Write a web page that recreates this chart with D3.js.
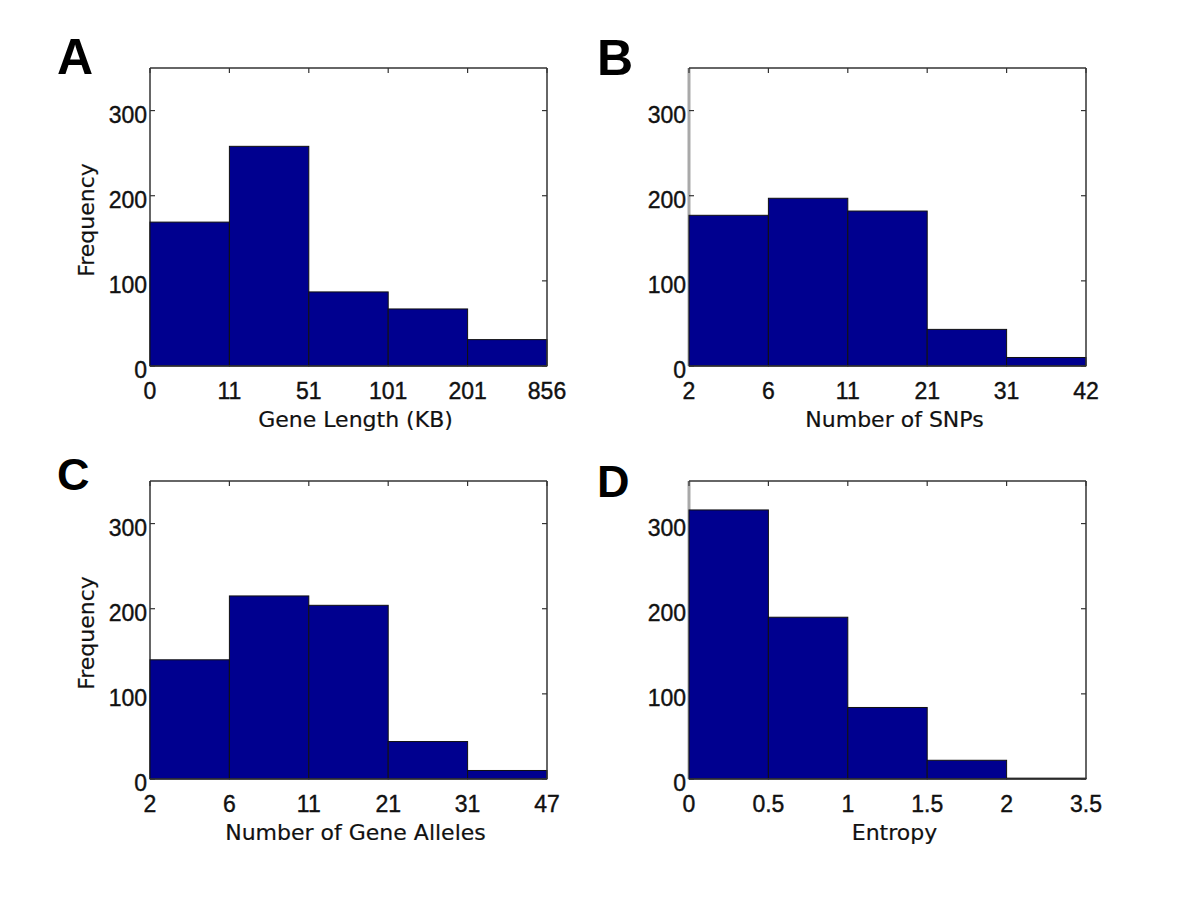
<!DOCTYPE html>
<html>
<head>
<meta charset="utf-8">
<script src="https://cdn.jsdelivr.net/npm/d3@7"></script>
<style>
  html, body { margin: 0; padding: 0; background: #fff; }
  svg { display: block; }
</style>
</head>
<body>
<svg id="chart" width="1200" height="913"></svg>
<script>
// ---- data ----
const panelLetters = ["A", "B", "C", "D"];
const xTitles = ["Gene Length (KB)", "Number of SNPs", "Number of Gene Alleles", "Entropy"];
const yTitles = ["Frequency", "", "Frequency", ""];
const edgesA = ["0", "11", "51", "101", "201", "856"];
const countsA = [169, 258, 87, 67, 31];
const edgesB = ["2", "6", "11", "21", "31", "42"];
const countsB = [177, 197, 182, 43, 10];
const edgesC = ["2", "6", "11", "21", "31", "47"];
const countsC = [140, 215, 204, 44, 10];
const edgesD = ["0", "0.5", "1", "1.5", "2", "3.5"];
const countsD = [316, 190, 84, 22, 1];
const yTicks = [0, 100, 200, 300];
const yMax = 350;

const edgesAll = [edgesA, edgesB, edgesC, edgesD];
const countsAll = [countsA, countsB, countsC, countsD];

// ---- layout ----
const svg = d3.select("#chart");
const lefts = [150, 689, 150, 689];
const tops = [68, 68, 481, 481];
const W = 397, H = 298;
const barColor = "#00008F";
const tickFont = "'Liberation Sans', Arial, sans-serif";
const titleFont = "'DejaVu Sans', sans-serif";
const letterX = [57, 597, 57, 597];
const letterDY = [6, 7, 9, 16];
const letterSize = [50, 50, 45, 45];

panelLetters.forEach((letter, i) => {
  const L = lefts[i], T = tops[i];
  const g = svg.append("g");
  const x = d3.scalePoint().domain(edgesAll[i]).range([L, L + W]);
  const y = d3.scaleLinear().domain([0, yMax]).range([T + H, T]);
  const edges = edgesAll[i];
  const counts = countsAll[i];
  const grayLeft = (i === 1 || i === 3);

  // left spine (under bars)
  g.append("line")
    .attr("x1", L).attr("x2", L).attr("y1", T).attr("y2", T + H)
    .attr("stroke", grayLeft ? "#a9a9a9" : "#333")
    .attr("stroke-width", grayLeft ? 3 : 1.5);

  // inward left ticks (under bars)
  g.selectAll(".ltick").data(yTicks).enter().append("line")
    .attr("x1", L).attr("x2", L + 5)
    .attr("y1", d => y(d)).attr("y2", d => y(d))
    .attr("stroke", "#333").attr("stroke-width", 1.2);

  // bars
  g.selectAll(".bar").data(counts).enter().append("rect")
    .attr("x", (d, k) => x(edges[k]))
    .attr("width", (d, k) => x(edges[k + 1]) - x(edges[k]))
    .attr("y", d => y(d))
    .attr("height", d => y(0) - y(d))
    .attr("fill", barColor)
    .attr("stroke", "#111")
    .attr("stroke-width", 1);

  // rest of box (on top)
  const box = [
    [L, T, L + W, T],
    [L + W, T, L + W, T + H],
    [L, T + H, L + W, T + H]
  ];
  box.forEach(b => {
    g.append("line")
      .attr("x1", b[0]).attr("y1", b[1]).attr("x2", b[2]).attr("y2", b[3])
      .attr("stroke", "#333").attr("stroke-width", 1.5);
  });

  // top inward ticks at x edges, right inward ticks at y ticks
  g.selectAll(".ttick").data(edges).enter().append("line")
    .attr("x1", d => x(d)).attr("x2", d => x(d))
    .attr("y1", T).attr("y2", T + 5)
    .attr("stroke", "#333").attr("stroke-width", 1.2);
  g.selectAll(".rtick").data(yTicks).enter().append("line")
    .attr("x1", L + W - 5).attr("x2", L + W)
    .attr("y1", d => y(d)).attr("y2", d => y(d))
    .attr("stroke", "#333").attr("stroke-width", 1.2);

  // y tick labels
  g.selectAll(".ylab").data(yTicks).enter().append("text")
    .attr("x", L - 3)
    .attr("y", d => y(d) + 12)
    .attr("text-anchor", "end")
    .attr("font-family", tickFont)
    .attr("font-size", 23)
    .attr("fill", "#111")
    .attr("stroke", "#111").attr("stroke-width", 0.4)
    .text(d => d);

  // x tick labels
  g.selectAll(".xlab").data(edges).enter().append("text")
    .attr("x", d => x(d))
    .attr("y", T + H + 33)
    .attr("text-anchor", "middle")
    .attr("font-family", tickFont)
    .attr("font-size", 23)
    .attr("fill", "#111")
    .attr("stroke", "#111").attr("stroke-width", 0.4)
    .text(d => d);

  // x title
  g.append("text")
    .attr("x", L + W / 2 + 7)
    .attr("y", T + H + 61)
    .attr("text-anchor", "middle")
    .attr("font-family", titleFont)
    .attr("font-size", 22)
    .attr("fill", "#111")
    .attr("stroke", "#111").attr("stroke-width", 0.2)
    .text(xTitles[i]);

  // y title
  if (yTitles[i]) {
    g.append("text")
      .attr("transform", `translate(${L - 56},${T + H / 2 + 3}) rotate(-90)`)
      .attr("text-anchor", "middle")
      .attr("font-family", titleFont)
      .attr("font-size", 22)
      .attr("fill", "#111")
      .attr("stroke", "#111").attr("stroke-width", 0.2)
      .text(yTitles[i]);
  }

  // panel letter
  g.append("text")
    .attr("x", letterX[i])
    .attr("y", T + letterDY[i])
    .attr("font-family", "'Liberation Sans', Arial, sans-serif")
    .attr("font-weight", "bold")
    .attr("font-size", letterSize[i])
    .attr("fill", "#000")
    .text(letter);
});
</script>
</body>
</html>
